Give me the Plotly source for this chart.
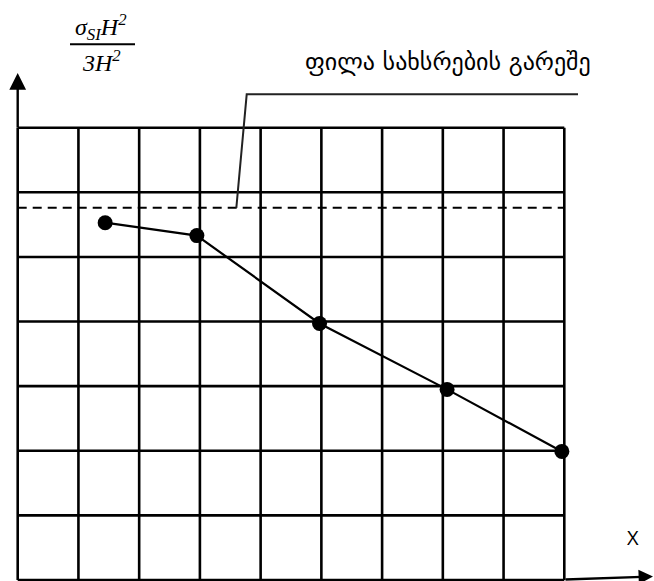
import plotly.graph_objects as go

# Measured stress ratio along the slab (grid units)
x_pos = [1.44, 2.95, 4.97, 7.07, 8.96]
stress_ratio = [5.53, 5.33, 3.97, 2.95, 1.99]

# Reference level for the slab without joints
no_joint_level = 5.76

# Grid extents (cells)
n_cols = 9
n_rows = 7

y_label_num = "<i>σ<sub>SI</sub>H<sup>2</sup></i>"
y_label_den = "<i>3H<sup>2</sup></i>"
ref_label = "ფილა სახსრების გარეშე"
x_label = "X"

W, H = 654, 581
# pixel geometry of the grid
gx0, gx1 = 17.7, 564.3
gy0, gy1 = 580.0, 127.7
ux = (gx1 - gx0) / n_cols
uy = (gy0 - gy1) / n_rows


def px(x):
    return x / W


def py(y):
    return 1 - y / H


fig = go.Figure()

shapes = []
for i in range(n_cols + 1):
    shapes.append(dict(type="line", xref="x", yref="y", x0=i, x1=i, y0=0, y1=n_rows,
                       line=dict(color="black", width=2.6), layer="below"))
for j in range(n_rows + 1):
    shapes.append(dict(type="line", xref="x", yref="y", x0=0, x1=n_cols, y0=j, y1=j,
                       line=dict(color="black", width=2.6), layer="below"))

# dashed reference level
fig.add_trace(go.Scatter(x=[0, n_cols], y=[no_joint_level, no_joint_level], mode="lines",
                         line=dict(color="black", width=2, dash="9px,6px"),
                         hoverinfo="skip", showlegend=False))

# leader line from dashed level to label
lead_x = 3.6
lead_top_px = 94.3
shapes.append(dict(type="path", xref="paper", yref="paper",
                   path=f"M {px(gx0 + lead_x * ux)},{py(gy0 - no_joint_level * uy)} "
                        f"L {px(246.7)},{py(lead_top_px)} L {px(578)},{py(lead_top_px)}",
                   line=dict(color="#222", width=2)))

# fraction bar of the axis label
shapes.append(dict(type="line", xref="paper", yref="paper", x0=px(70), x1=px(135),
                   y0=py(44.3), y1=py(44.3), line=dict(color="black", width=2)))

fig.add_trace(go.Scatter(x=x_pos, y=stress_ratio, mode="lines+markers",
                         line=dict(color="black", width=2.2),
                         marker=dict(color="black", size=15),
                         hoverinfo="skip", showlegend=False))

annotations = [
    # y axis arrow
    dict(xref="paper", yref="paper", x=px(gx0), y=py(73), ax=0, ay=56, axref="pixel", ayref="pixel",
         text="", showarrow=True, arrowhead=2, arrowsize=1.4, arrowwidth=2.4, arrowcolor="black"),
    # x axis arrow
    dict(xref="paper", yref="paper", x=px(657), y=py(576.5), ax=-93, ay=3, axref="pixel", ayref="pixel",
         text="", showarrow=True, arrowhead=2, arrowsize=1.2, arrowwidth=2.4, arrowcolor="black"),
    dict(xref="paper", yref="paper", x=px(101), y=py(27), text=y_label_num, showarrow=False,
         font=dict(family="Liberation Serif", size=24, color="black"), xanchor="center", yanchor="middle"),
    dict(xref="paper", yref="paper", x=px(101), y=py(61), text=y_label_den, showarrow=False,
         font=dict(family="Liberation Serif", size=24, color="black"), xanchor="center", yanchor="middle"),
    dict(xref="paper", yref="paper", x=px(303), y=py(62), text=ref_label, showarrow=False,
         font=dict(family="DejaVu Sans", size=24, color="black"), xanchor="left", yanchor="middle"),
    dict(xref="paper", yref="paper", x=px(633), y=py(537), text=x_label, showarrow=False,
         font=dict(family="Open Sans", size=20, color="black"), xanchor="center", yanchor="middle"),
]

fig.update_layout(
    width=W, height=H,
    margin=dict(l=0, r=0, t=0, b=0),
    paper_bgcolor="white", plot_bgcolor="white",
    shapes=shapes, annotations=annotations,
    xaxis=dict(range=[-gx0 / ux, (W - gx0) / ux], visible=False, fixedrange=True),
    yaxis=dict(range=[(gy0 - H) / uy, gy0 / uy], visible=False, fixedrange=True),
)

fig.write_html("out.html")
